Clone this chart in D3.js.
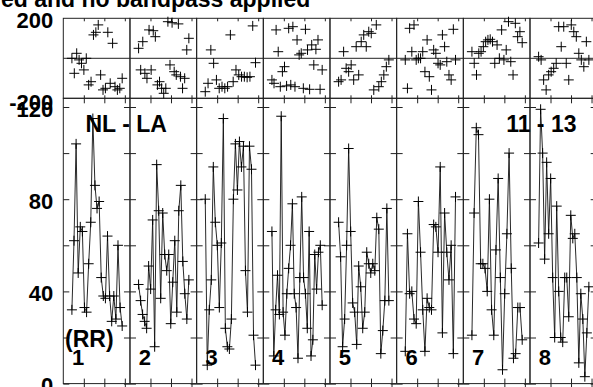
<!DOCTYPE html>
<html><head><meta charset="utf-8">
<script src="https://cdn.jsdelivr.net/npm/d3@7"></script>
<style>
html,body{margin:0;padding:0;background:#fff;overflow:hidden;}
svg{display:block;}
text{font-family:"Liberation Sans",Arial,Helvetica,sans-serif;font-weight:bold;fill:#000;}
</style></head><body>
<svg id="chart" width="593" height="387"></svg>
<script>
// ---------------- data ----------------
const sections = ["1","2","3","4","5","6","7","8"];
const titleText = "ed and no bandpass applied";
const baselineLabel = "NL - LA";
const timeLabel = "11 - 13";
const polLabel = "(RR)";
const ampTicks = [0, 40, 80, 120];
const ampMinorTicks = [0, 20, 40, 60, 80, 100, 120];
const phaseTicks = [-200, 200];
const timeTicks = [1, 2, 3];

const amp1 = [32, 62, 104, 48, 68, 66, 33, 31, 52, 70, 115, 86, 76, 79, 46, 38, 37, 64, 38, 27, 38, 28, 60, 33, 25];
const amp2 = [43, 36, 30, 27, 24, 51, 41, 71, 16, 95, 75, 37, 74, 56, 49, 56, 26, 44, 62, 31, 75, 86, 53, 39, 28, 45];
const amp3 = [80, 8, 32, 45, 94, 70, 60, 33, 61, 115, 24, 16, 15, 28, 80, 104, 84, 105, 94, 103, 49, 31, 103, 93, 21, 8];
const amp4 = [66, 12, 32, 47, 30, 116, 31, 21, 39, 50, 60, 78, 39, 33, 11, 46, 81, 46, 39, 24, 66, 12, 19, 56, 41, 57, 60, 34];
const amp5 = [70, 55, 16, 28, 60, 102, 66, 35, 31, 17, 51, 42, 24, 31, 57, 52, 48, 52, 49, 72, 67, 13, 23, 36, 76, 36];
const amp6 = [14, 65, 39, 40, 28, 26, 79, 57, 32, 14, 37, 33, 32, 69, 68, 57, 94, 22, 74, 57, 45, 60, 13, 81];
const amp7 = [21, 74, 111, 108, 52, 52, 50, 40, 80, 32, 21, 58, 89, 46, 6, 39, 65, 100, 50, 11, 13, 33, 33, 19];
const amp8 = [61, 119, 100, 54, 96, 65, 89, 46, 20, 77, 40, 20, 18, 46, 46, 29, 73, 63, 65, 46, 9, 39, 28, 3, 22, 42];

const phase1 = [0, -75, 25, -8, -25, -58, 0, -133, -117, 117, 130, 167, -83, -158, -150, 130, -125, 75, -142, -158, -150, -100];
const phase2 = [50, -58, 83, -75, -100, 142, -58, 138, 108, -133, -117, -150, -175, -150, 183, -33, 178, -67, -83, 172, -92, -150, -100, 42, 100];
const phase3 = [-167, -125, 42, -25, -108, -150, -142, -150, -142, 117, -117, -58, -83, -92, -92, -95, -92, 162, -22];
const phase4 = [-108, -125, 142, 33, -142, -67, -42, -138, 150, -133, 158, -142, 92, 17, 25, -150, 145, 42, -155, 67, -33, 45, 92, -155, -58];
const phase5 = [-117, -108, 33, -50, -67, -33, -108, 58, -83, 83, 117, 58, 133, 125, -158, 167, -142, -117, -83, -42, -8];
const phase6 = [-8, -150, 150, 33, 167, -8, 0, 0, 33, -67, 92, -92, -158, 42, 25, -25, -33, 117, 58, -17, -83, -108, 145, -8];
const phase7 = [33, -25, -83, 25, 33, 58, 83, 92, 95, 83, -25, 67, 0, 142, -8, 42, 183, -17, -83, 175, 108, 133, 78];
const phase8 = [8, -8, -108, -158, -83, -67, -50, -25, 158, 58, 158, -25, -108, 167, 133, 108, 25, -8, -42, 83, -8];

const amplitudes = [amp1, amp2, amp3, amp4, amp5, amp6, amp7, amp8];
const phases = [phase1, phase2, phase3, phase4, phase5, phase6, phase7, phase8];

// ---------------- layout ----------------
const svg = d3.select("#chart");
const left = 63.3, secW = 66.67;
const topY0 = 18.3, midY = 98.3, botY = 383.6;
const frameColor = "#222";

const xSec = d3.scaleBand().domain(sections).range([left, left + secW * sections.length]).padding(0);
const xIn = d3.scaleLinear().domain([0, 3.25]).range([0, secW]);
const yPh = d3.scaleLinear().domain([-200, 200]).range([midY, topY0]);
const yAmp = d3.scaleLinear().domain([0, 120]).range([botY, 107]);
const tStart = 0.42, tEnd = 2.87;

const cross = "M-5,0H5M0,-5V5";

sections.forEach((s, i) => {
  const g = svg.append("g").attr("transform", `translate(${xSec(s)},0)`);
  const w = xSec.bandwidth();
  // frames
  g.append("rect").attr("x", 0).attr("y", topY0).attr("width", w).attr("height", midY - topY0)
    .attr("fill", "none").attr("stroke", frameColor).attr("stroke-width", 1);
  g.append("rect").attr("x", 0).attr("y", midY).attr("width", w).attr("height", botY - midY)
    .attr("fill", "none").attr("stroke", frameColor).attr("stroke-width", 1);
  // zero phase line
  g.append("line").attr("x1", 0).attr("x2", w).attr("y1", yPh(0)).attr("y2", yPh(0))
    .attr("stroke", frameColor).attr("stroke-width", 1);

  // amplitude y ticks inward on both sides
  const axL = d3.axisRight(yAmp).tickValues(ampMinorTicks).tickSize(6).tickFormat("").tickSizeOuter(0);
  const axR = d3.axisLeft(yAmp).tickValues(ampMinorTicks).tickSize(6).tickFormat("").tickSizeOuter(0);
  g.append("g").call(axL).call(a => a.select(".domain").remove()).selectAll("line").attr("stroke", frameColor);
  g.append("g").attr("transform", `translate(${w},0)`).call(axR).call(a => a.select(".domain").remove()).selectAll("line").attr("stroke", frameColor);

  // time ticks
  const mk = (axisFn, y, size) => {
    g.append("g").attr("transform", `translate(0,${y})`)
      .call(axisFn(xIn).tickValues(timeTicks).tickSize(size).tickFormat("").tickSizeOuter(0))
      .call(a => a.select(".domain").remove())
      .selectAll("line").attr("stroke", frameColor);
  };
  mk(d3.axisBottom, topY0, 3);
  mk(d3.axisTop, midY, 3);
  mk(d3.axisBottom, midY, 5);
  mk(d3.axisTop, botY, 5);
  mk(d3.axisBottom, botY, 4);

  // amplitude series
  const a = amplitudes[i];
  const xa = d3.scaleLinear().domain([0, a.length - 1]).range([xIn(tStart), xIn(tEnd)]);
  g.append("path").datum(a)
    .attr("d", d3.line().x((d, k) => xa(k)).y(d => yAmp(d)))
    .attr("fill", "none").attr("stroke", "#111").attr("stroke-width", 0.9);
  g.append("g").selectAll("path").data(a).join("path")
    .attr("d", cross).attr("transform", (d, k) => `translate(${xa(k)},${yAmp(d)})`)
    .attr("stroke", "#000").attr("stroke-width", 1).attr("fill", "none");

  // phase points
  const p = phases[i];
  const xp = d3.scaleLinear().domain([0, p.length - 1]).range([xIn(tStart), xIn(tEnd)]);
  g.append("g").selectAll("path").data(p).join("path")
    .attr("d", cross).attr("transform", (d, k) => `translate(${xp(k)},${yPh(d)})`)
    .attr("stroke", "#000").attr("stroke-width", 1).attr("fill", "none");

  // section number
  g.append("text").attr("x", 8.8).attr("y", 365).attr("font-size", 22).text(s);
});

// y-axis labels
const axAmp = svg.append("g").attr("transform", `translate(${left},0)`)
  .call(d3.axisLeft(yAmp).tickValues(ampTicks).tickSize(0).tickPadding(10).tickFormat(d => String(d)));
axAmp.select(".domain").remove();
axAmp.selectAll("text").attr("font-size", 22).attr("dy", 9).attr("font-family", null).attr("fill", "#000");

const axPh = svg.append("g").attr("transform", `translate(${left},0)`)
  .call(d3.axisLeft(yPh).tickValues(phaseTicks).tickSize(0).tickPadding(10).tickFormat(d => String(d)));
axPh.select(".domain").remove();
axPh.selectAll("text").attr("font-size", 22).attr("dy", d => d < 0 ? 11.5 : 9).attr("font-family", null).attr("fill", "#000");

// annotations
svg.append("text").attr("x", 1).attr("y", 7).attr("font-size", 23).text(titleText);
svg.append("text").attr("x", 85.5).attr("y", 132.3).attr("font-size", 23).text(baselineLabel);
svg.append("text").attr("x", 576.5).attr("y", 132.3).attr("font-size", 23).attr("text-anchor", "end").text(timeLabel);
svg.append("text").attr("x", 65).attr("y", 346.5).attr("font-size", 23).text(polLabel);
</script>
</body></html>
